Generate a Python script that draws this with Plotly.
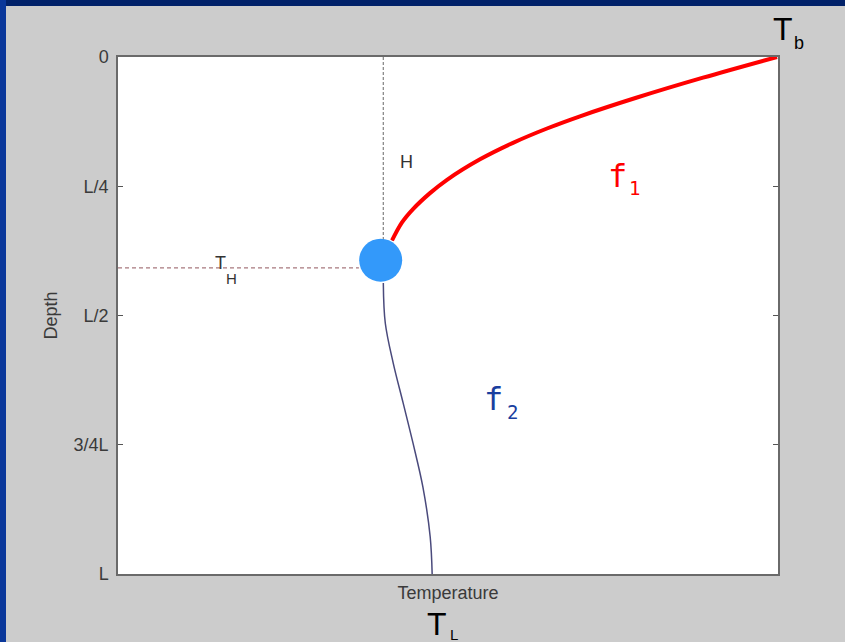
import plotly.graph_objects as go

# Depth profile (depth in units of L, temperature normalised 0..1)
f1_temp = [0.4152, 0.4303, 0.4470, 0.4727, 0.4985, 0.5485, 0.5985, 0.6500, 0.7000, 0.7864, 0.8864, 0.9985]
f1_depth = [0.3549, 0.3200, 0.2942, 0.2633, 0.2375, 0.1979, 0.1660, 0.1383, 0.1147, 0.0784, 0.0400, 0.0]

f2_temp = [0.402, 0.405, 0.417, 0.432, 0.447, 0.462, 0.473, 0.476]
f2_depth = [0.437, 0.515, 0.592, 0.669, 0.747, 0.832, 0.928, 1.0]

node_temp = [0.398]
node_depth = [0.393]

th_temp = 0.402      # temperature T_H (vertical guide)
h_depth = 0.408      # depth H (horizontal guide)
v_guide_end = 0.37   # vertical guide stops above the node
h_guide_end = 0.365  # horizontal guide stops left of the node

depth_ticks = [0, 0.25, 0.5, 0.75, 1.0]
depth_labels = ["0", "L/4", "L/2", "3/4L", "L"]

W, H = 845, 642
ML, MR, MT, MB = 118, 67, 57, 68
PW, PH = W - ML - MR, H - MT - MB

def px_x(px):
    return (px - ML) / PW

def px_y(py):
    return (H - MB - py) / PH

fig = go.Figure()

# guides
fig.add_trace(go.Scatter(x=[th_temp, th_temp], y=[0, v_guide_end], mode="lines",
                         line=dict(color="#8a8a8a", width=1.3, dash="3px,2px"),
                         hoverinfo="skip", showlegend=False))
fig.add_trace(go.Scatter(x=[0, h_guide_end], y=[h_depth, h_depth], mode="lines",
                         line=dict(color="#a8787e", width=1.2, dash="4px,3px"),
                         hoverinfo="skip", showlegend=False))

# f2 (lower profile)
fig.add_trace(go.Scatter(x=f2_temp, y=f2_depth, mode="lines",
                         line=dict(color="#4a4a7c", width=1.5, shape="spline"),
                         showlegend=False))
# f1 (upper profile)
fig.add_trace(go.Scatter(x=f1_temp, y=f1_depth, mode="lines",
                         line=dict(color="#3a3a7a", width=1.5, shape="spline"),
                         showlegend=False))
fig.add_trace(go.Scatter(x=f1_temp, y=f1_depth, mode="lines",
                         line=dict(color="#ff0000", width=4, shape="spline"),
                         showlegend=False))

# node
fig.add_trace(go.Scatter(x=node_temp, y=node_depth, mode="markers",
                         marker=dict(size=43, color="#3399fa", line=dict(width=0)),
                         showlegend=False))

sans = "Liberation Sans, Arial, sans-serif"
lab = dict(family=sans, size=18, color="#3a3a3a")
mono = "DejaVu Sans Mono, monospace"

ann = [
    dict(x=px_x(406), y=px_y(162), text="H", font=dict(family=sans, size=18, color="#333333")),
    dict(x=px_x(220), y=px_y(263), text="T", font=dict(family=sans, size=18, color="#333333")),
    dict(x=px_x(231), y=px_y(278), text="H", font=dict(family=sans, size=15, color="#333333")),
    dict(x=px_x(617), y=px_y(176), text="f", font=dict(family=mono, size=32, color="#ff0000")),
    dict(x=px_x(634), y=px_y(188), text="1", font=dict(family=mono, size=19, color="#ff0000")),
    dict(x=px_x(493), y=px_y(399), text="f", font=dict(family=mono, size=32, color="#1a3f9f")),
    dict(x=px_x(512), y=px_y(412), text="2", font=dict(family=mono, size=19, color="#1a3f9f")),
    dict(x=px_x(783), y=px_y(29), text="T", font=dict(family=sans, size=32, color="#000000")),
    dict(x=px_x(799), y=px_y(43), text="b", font=dict(family=sans, size=18, color="#000000")),
    dict(x=px_x(437), y=px_y(624), text="T", font=dict(family=sans, size=32, color="#000000")),
    dict(x=px_x(454), y=px_y(634), text="L", font=dict(family=sans, size=15, color="#000000")),
]
for a in ann:
    a.update(xref="paper", yref="paper", showarrow=False, xanchor="center", yanchor="middle")

shapes = [
    dict(type="rect", xref="paper", yref="paper", x0=px_x(0), x1=px_x(W), y0=px_y(6), y1=px_y(0),
         fillcolor="#012169", line=dict(width=0), layer="below"),
    dict(type="rect", xref="paper", yref="paper", x0=px_x(0), x1=px_x(6), y0=px_y(H), y1=px_y(0),
         fillcolor="#0a379a", line=dict(width=0), layer="below"),
]

fig.update_layout(
    width=W, height=H,
    margin=dict(l=ML, r=MR, t=MT, b=MB, pad=0),
    paper_bgcolor="#cccccc",
    plot_bgcolor="#ffffff",
    annotations=ann,
    shapes=shapes,
    xaxis=dict(range=[0, 1], showgrid=False, zeroline=False, showticklabels=False, ticks="",
               showline=True, linecolor="#6a6a6a", linewidth=1.5, mirror=True,
               title=dict(text="Temperature", font=lab, standoff=12)),
    yaxis=dict(range=[1, 0], showgrid=False, zeroline=False,
               tickvals=depth_ticks, ticktext=depth_labels, tickfont=lab,
               ticks="inside", ticklen=5, tickcolor="#555555", tickwidth=1.2,
               ticklabelstandoff=4,
               showline=True, linecolor="#6a6a6a", linewidth=1.5, mirror="ticks",
               title=dict(text="Depth", font=lab, standoff=11)),
)

fig.write_html("out.html")
